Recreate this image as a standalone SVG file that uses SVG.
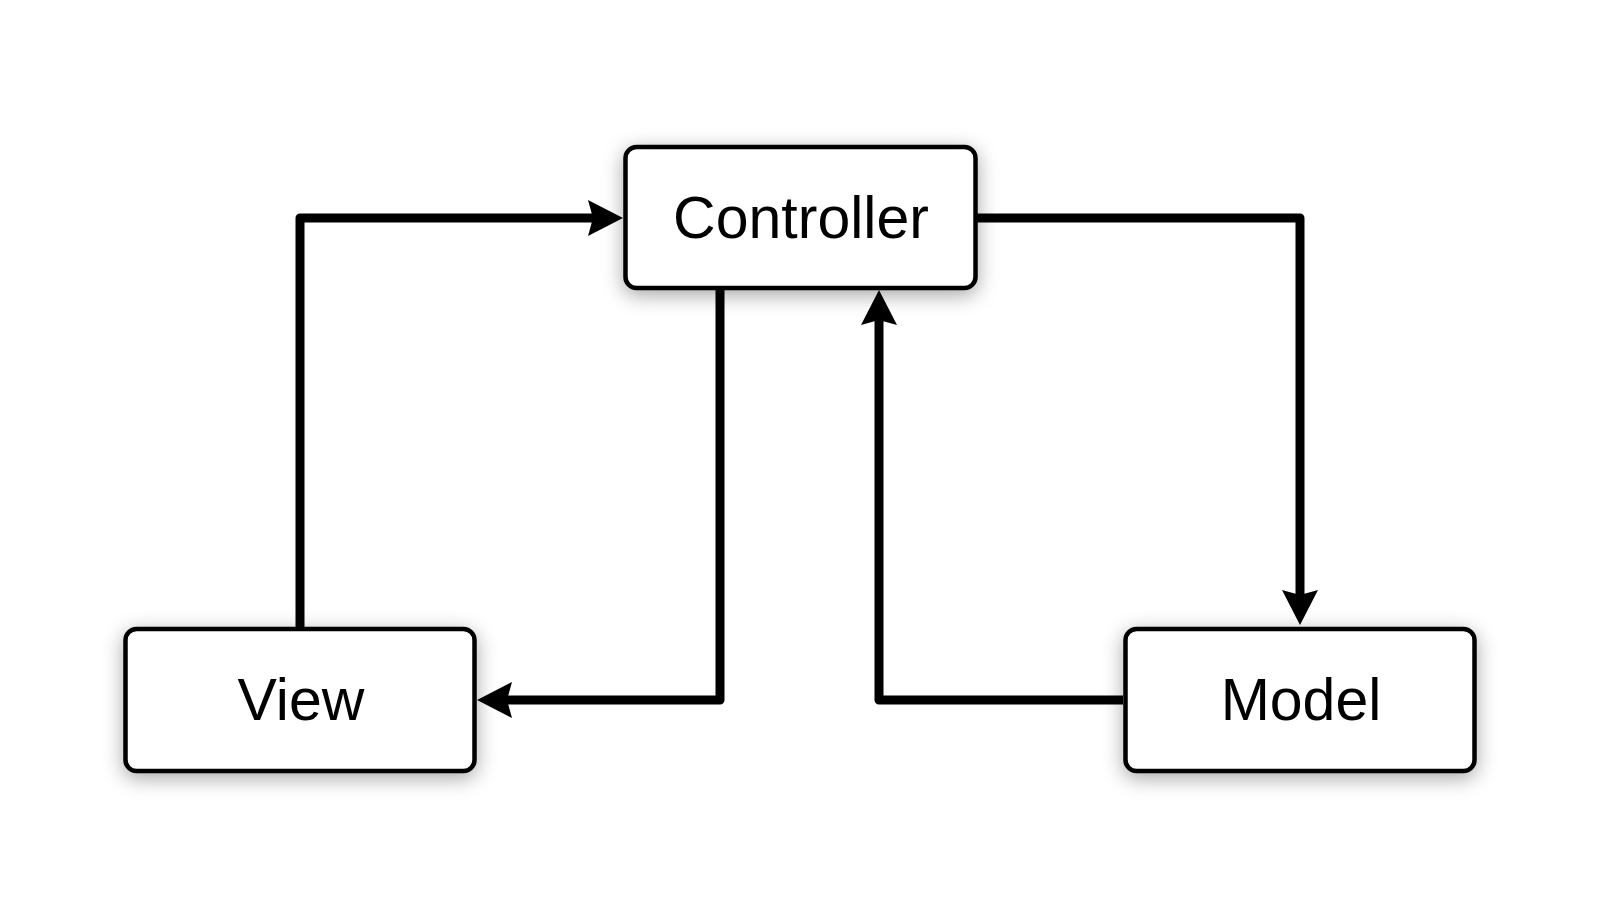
<svg xmlns="http://www.w3.org/2000/svg" width="1600" height="900" viewBox="0 0 1600 900">
  <style>
    .box { fill: #ffffff; stroke: #000000; stroke-width: 4.5; filter: url(#shadow); }
    .label { font-family: "Liberation Sans", Arial, Helvetica, sans-serif; font-size: 59px; fill: #000000; text-anchor: middle; }
    .edge { fill: none; stroke: #000000; stroke-width: 9; stroke-linejoin: round; marker-end: url(#arrow); }
  </style>
  <defs>
    <filter id="shadow" x="-25%" y="-50%" width="150%" height="200%">
      <feDropShadow dx="0" dy="5" stdDeviation="10" flood-color="#000000" flood-opacity="0.35"/>
    </filter>
    <!-- classic notched arrowhead; reference point sits on the notch -->
    <marker id="arrow" viewBox="0 0 36 36" markerUnits="userSpaceOnUse" markerWidth="36" markerHeight="36" refX="5" refY="18" orient="auto" overflow="visible">
      <path d="M35,18 L0,0 L5,18 L0,36 Z" fill="#000000"/>
    </marker>
  </defs>

  <rect width="1600" height="900" fill="#ffffff"/>

  <g id="connectors">
    <!-- View to Controller -->
    <path class="edge" d="M300,627 L300,218 L593,218"/>
    <!-- Controller to Model -->
    <path class="edge" d="M977,218 L1300,218 L1300,595"/>
    <!-- Controller to View -->
    <path class="edge" d="M720,290 L720,700 L507,700"/>
    <!-- Model to Controller -->
    <path class="edge" d="M1123,700 L879,700 L879,320"/>
  </g>

  <g id="controller">
    <rect class="box" x="625.5" y="147" width="350" height="141" rx="11"/>
    <text class="label" x="801" y="238">Controller</text>
  </g>

  <g id="view">
    <rect class="box" x="125.5" y="629" width="349" height="142" rx="11"/>
    <text class="label" x="301" y="720">View</text>
  </g>

  <g id="model">
    <rect class="box" x="1125.5" y="629" width="349" height="142" rx="11"/>
    <text class="label" x="1301" y="720">Model</text>
  </g>
</svg>
